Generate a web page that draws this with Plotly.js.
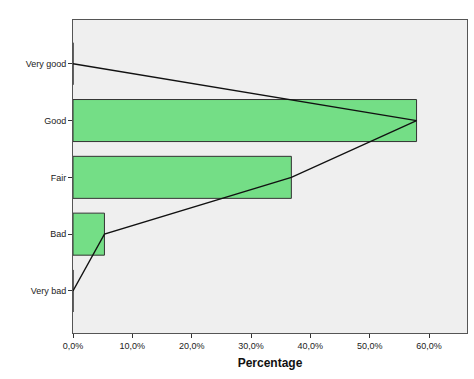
<!DOCTYPE html>
<html><head><meta charset="utf-8">
<script src="https://cdn.plot.ly/plotly-3.0.1.min.js"></script>
<style>html,body{margin:0;padding:0;background:#fff}#chart{width:474px;height:379px}</style>
</head><body><div id="chart"></div>
<script>
var categories = ["Very good", "Good", "Fair", "Bad", "Very bad"];
var percentages = [0, 57.9, 36.8, 5.3, 0];
var xTickValues = [0, 10, 20, 30, 40, 50, 60];
var xTickLabels = ["0,0%", "10,0%", "20,0%", "30,0%", "40,0%", "50,0%", "60,0%"];

var bars = {
  type: "bar", orientation: "h", x: percentages, y: categories, width: 0.74,
  marker: {color: "#74DE86", line: {color: "#333333", width: 1}},
  hoverinfo: "skip"
};
var line = {
  type: "scatter", mode: "lines", x: percentages, y: categories,
  line: {color: "#111111", width: 1.3}, hoverinfo: "skip"
};
Plotly.newPlot("chart", [bars, line], {
  width: 474, height: 379,
  margin: {l: 73, r: 7, t: 20, b: 46},
  paper_bgcolor: "#ffffff", plot_bgcolor: "#EFEFEF",
  showlegend: false,
  font: {family: "Liberation Sans, Arial, sans-serif", size: 9, color: "#222"},
  xaxis: {
    range: [0, 66.4], tickvals: xTickValues, ticktext: xTickLabels,
    ticks: "outside", ticklen: 4, tickcolor: "#333", showgrid: false, zeroline: false,
    showline: true, linecolor: "#555", linewidth: 1, mirror: true,
    title: {text: "<b>Percentage</b>", font: {size: 12, color: "#111"}, standoff: 8}
  },
  yaxis: {
    type: "category", categoryorder: "array", categoryarray: categories,
    autorange: false, range: [4.74, -0.77],
    ticks: "outside", ticklen: 4, tickcolor: "#333", showgrid: false, zeroline: false,
    showline: true, linecolor: "#555", linewidth: 1, mirror: true
  }
}, {staticPlot: true});
</script></body></html>
